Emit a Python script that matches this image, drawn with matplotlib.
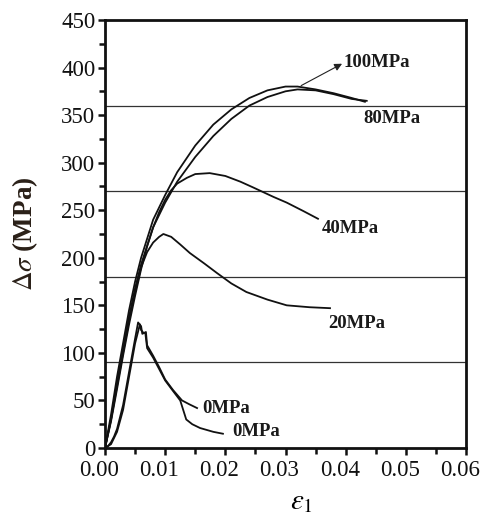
import numpy as np
import matplotlib
matplotlib.use("Agg")
import matplotlib.pyplot as plt
import matplotlib.transforms as mtransforms
from matplotlib.ticker import MultipleLocator

plt.rcParams['font.family'] = ['Liberation Serif', 'DejaVu Serif']
plt.rcParams['mathtext.fontset'] = 'stix'

# curves (strain, stress difference)
x_100 = [0, 0.001, 0.002, 0.003, 0.004, 0.005, 0.006, 0.008, 0.010, 0.012, 0.015, 0.018,
         0.021, 0.024, 0.027, 0.030, 0.032, 0.035, 0.038, 0.041, 0.0432]
y_100 = [0, 35, 75, 110, 145, 175, 200, 240, 266, 290, 318, 340, 356, 368, 376, 380, 380,
         377, 373, 368, 364]
x_80 = [0, 0.001, 0.002, 0.003, 0.004, 0.005, 0.006, 0.008, 0.010, 0.012, 0.015, 0.018,
        0.021, 0.024, 0.027, 0.030, 0.032, 0.035, 0.038, 0.041, 0.0435]
y_80 = [0, 30, 68, 103, 138, 168, 193, 232, 258, 280, 306, 328, 346, 360, 369, 375, 377,
        376, 372, 367, 365]
x_40 = [0, 0.001, 0.002, 0.003, 0.004, 0.005, 0.006, 0.007, 0.008, 0.009, 0.010, 0.011,
        0.012, 0.0136, 0.015, 0.0174, 0.020, 0.0225, 0.0246, 0.028, 0.0302, 0.033, 0.0354]
y_40 = [0, 28, 62, 97, 130, 160, 188, 212, 232, 248, 261, 271, 278, 284, 288, 289, 286,
        280, 274, 264, 258, 249, 241]
x_20 = [0, 0.001, 0.002, 0.003, 0.004, 0.005, 0.006, 0.007, 0.008, 0.009, 0.0097, 0.011,
        0.0125, 0.0141, 0.0165, 0.0186, 0.021, 0.0235, 0.027, 0.0302, 0.034, 0.0374]
y_20 = [0, 30, 65, 100, 134, 164, 190, 206, 216, 222, 225, 222, 214, 205, 194, 184, 173,
        164, 156, 150, 148, 147]
x_0a = [0, 0.0005, 0.001, 0.0015, 0.002, 0.003, 0.004, 0.005, 0.0055, 0.006, 0.0062,
        0.0065, 0.0068, 0.007, 0.008, 0.009, 0.010, 0.0113, 0.0128, 0.014, 0.0153]
y_0a = [0, 2, 6, 12, 20, 45, 80, 115, 132, 128, 120, 121, 122, 108, 97, 85, 72, 61, 50, 46, 42]
x_0b = [0, 0.001, 0.002, 0.003, 0.004, 0.005, 0.0058, 0.006, 0.0064, 0.0067, 0.007, 0.008,
        0.009, 0.010, 0.0113, 0.0125, 0.013, 0.0135, 0.0145, 0.0158, 0.018, 0.0196]
y_0b = [0, 4, 17, 40, 75, 110, 130, 124, 121, 121, 105, 95, 83, 71, 60, 50, 40, 30, 25, 21,
        17, 15]

h_lines = [90, 180, 270, 360]

fig = plt.figure(figsize=(4.83, 5.23), dpi=100)
ax = fig.add_axes([0.2174, 0.1434, 0.7474, 0.8184])

for y in h_lines:
    ax.axhline(y, color='#333333', lw=0.9)

for xs, ys in [(x_100, y_100), (x_80, y_80), (x_40, y_40), (x_20, y_20),
               (x_0a, y_0a), (x_0b, y_0b)]:
    ax.plot(xs, ys, color='#111111', lw=1.3)

lab = dict(fontsize=13.5, fontweight='bold', color='#1a1a1a', va='center')
ax.annotate('', xy=(0.0394, 404), xytext=(0.0326, 381),
            arrowprops=dict(arrowstyle='-|>', color='#222222', lw=0.8, mutation_scale=11,
                            shrinkA=0, shrinkB=0))
ax.text(0.0396, 405, '100MPa', **lab)
ax.text(0.0429, 346, '80MPa', **lab)
ax.text(0.0361, 231, '40MPa', **lab)
ax.text(0.0371, 131, '20MPa', **lab)
ax.text(0.0161, 42, '0MPa', **lab)
ax.text(0.0211, 17, '0MPa', **lab)

ax.set_xlim(0, 0.06)
ax.set_ylim(0, 450)
ax.xaxis.set_major_locator(MultipleLocator(0.01))
ax.xaxis.set_minor_locator(MultipleLocator(0.005))
ax.yaxis.set_major_locator(MultipleLocator(50))
ax.yaxis.set_minor_locator(MultipleLocator(25))
ax.xaxis.set_major_formatter(plt.FuncFormatter(lambda v, p: '%.2f' % v))
ax.tick_params(which='both', direction='out', width=1.8, labelsize=16.5, colors='#111111')
ax.tick_params(which='major', length=5)
ax.tick_params(which='minor', length=4)
ax.tick_params(axis='x', pad=3.5)
ax.tick_params(axis='y', pad=2)
for s in ax.spines.values():
    s.set_linewidth(2)
    s.set_color('#111111')

# x tick labels sit a little left of their ticks in the original
shift = mtransforms.ScaledTranslation(-6 / 100, 0, fig.dpi_scale_trans)
for t in ax.get_xticklabels():
    t.set_transform(t.get_transform() + shift)

ax.set_ylabel(r'$\Delta\sigma$ (MPa)', fontsize=19.5, fontweight='bold', color='#2a2018',
              labelpad=15)
ax.set_xlabel(r'$\varepsilon_1$', fontsize=21, labelpad=6)
ax.xaxis.set_label_coords(0.545, -0.095)

fig.savefig('out.png', dpi=100)
